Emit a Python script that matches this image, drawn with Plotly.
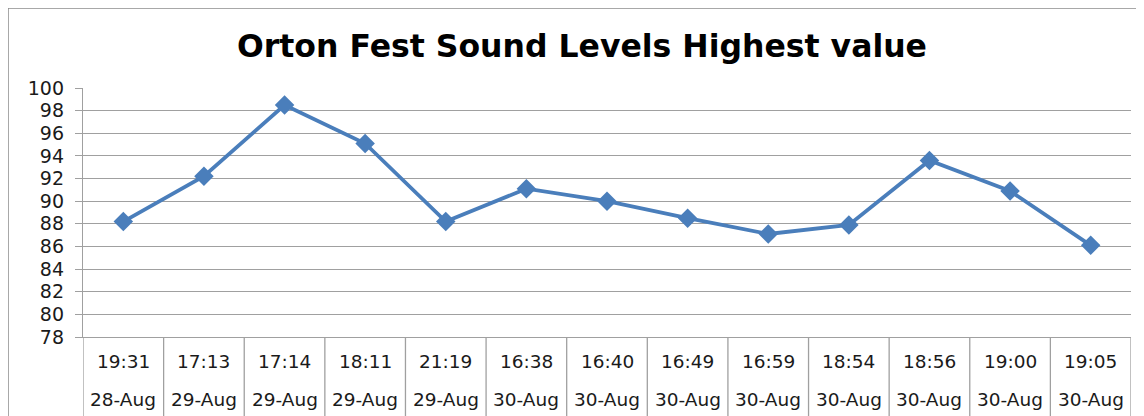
import plotly.graph_objects as go

# ---- data ----
times = ["19:31", "17:13", "17:14", "18:11", "21:19", "16:38", "16:40",
         "16:49", "16:59", "18:54", "18:56", "19:00", "19:05"]
dates = ["28-Aug", "29-Aug", "29-Aug", "29-Aug", "29-Aug", "30-Aug", "30-Aug",
         "30-Aug", "30-Aug", "30-Aug", "30-Aug", "30-Aug", "30-Aug"]
values = [88.2, 92.2, 98.5, 95.1, 88.2, 91.1, 90.0, 88.5, 87.1, 87.9, 93.6, 90.9, 86.1]
y_ticks = list(range(78, 101, 2))
title_text = "Orton Fest Sound Levels Highest value"

# page body has an 8px offset, so the figure is sized to fit the window
OFF = 8
W, H = 1144 - OFF, 416 - OFF
ML, MR, MT, MB = 83 - OFF, 13, 88 - OFF, 79
plot_h = H - MT - MB
plot_w = W - ML - MR

LINE_COLOR = "#4A7EBB"
GRID = "#A0A0A0"
LABEL_FONT = dict(family="DejaVu Sans", size=18.5, color="#1a1a1a")

idx = list(range(len(values)))

fig = go.Figure()
fig.add_trace(go.Scatter(
    x=idx, y=values, mode="lines+markers",
    line=dict(color=LINE_COLOR, width=3.8),
    marker=dict(symbol="diamond", size=15, color=LINE_COLOR),
    hoverinfo="y", showlegend=False, cliponaxis=False,
))

# category labels (two rows) placed by category index
for i, (t, d) in enumerate(zip(times, dates)):
    fig.add_annotation(x=i, xref="x", y=-24 / plot_h, yref="paper", text=t,
                       showarrow=False, yanchor="middle", xanchor="center",
                       font=LABEL_FONT)
    fig.add_annotation(x=i, xref="x", y=-62.5 / plot_h, yref="paper", text=d,
                       showarrow=False, yanchor="middle", xanchor="center",
                       font=LABEL_FONT)

# category dividers in label area
shapes = []
for i in range(len(values) + 1):
    shapes.append(dict(type="line", xref="x", yref="paper",
                       x0=i - 0.5, x1=i - 0.5, y0=0, y1=-(MB + 6) / plot_h,
                       line=dict(color=GRID, width=1.3)))
# outer chart border
shapes.append(dict(type="rect", xref="paper", yref="paper",
                   x0=(8 - OFF - ML) / plot_w, x1=(W + 10 - ML) / plot_w,
                   y0=-(MB + 10) / plot_h, y1=(plot_h + MT - (8 - OFF)) / plot_h,
                   line=dict(color="#8C8C8C", width=1.5), layer="below"))

fig.update_layout(
    width=W, height=H,
    margin=dict(l=ML, r=MR, t=MT, b=MB, pad=0),
    paper_bgcolor="white", plot_bgcolor="white",
    title=dict(text="<b>" + title_text + "</b>", x=(582 - OFF) / W, xanchor="center",
               y=1 - (46 - OFF) / H, yanchor="middle", xref="container",
               font=dict(family="DejaVu Sans", size=31.5, color="#000000")),
    shapes=shapes,
    xaxis=dict(range=[-0.5, len(values) - 0.5], showgrid=False, zeroline=False,
               showticklabels=False, ticks="", showline=True, linecolor=GRID,
               linewidth=1.3, fixedrange=True),
    yaxis=dict(range=[78, 100], tickvals=y_ticks, showgrid=True, gridcolor=GRID,
               gridwidth=1.3, zeroline=False, showline=True, linecolor=GRID,
               linewidth=1.3, ticks="outside", ticklen=7, tickcolor=GRID,
               tickwidth=1.3, ticklabelstandoff=7,
               tickfont=dict(family="DejaVu Sans", size=19, color="#1a1a1a"),
               fixedrange=True),
)

fig.write_html("out.html")
